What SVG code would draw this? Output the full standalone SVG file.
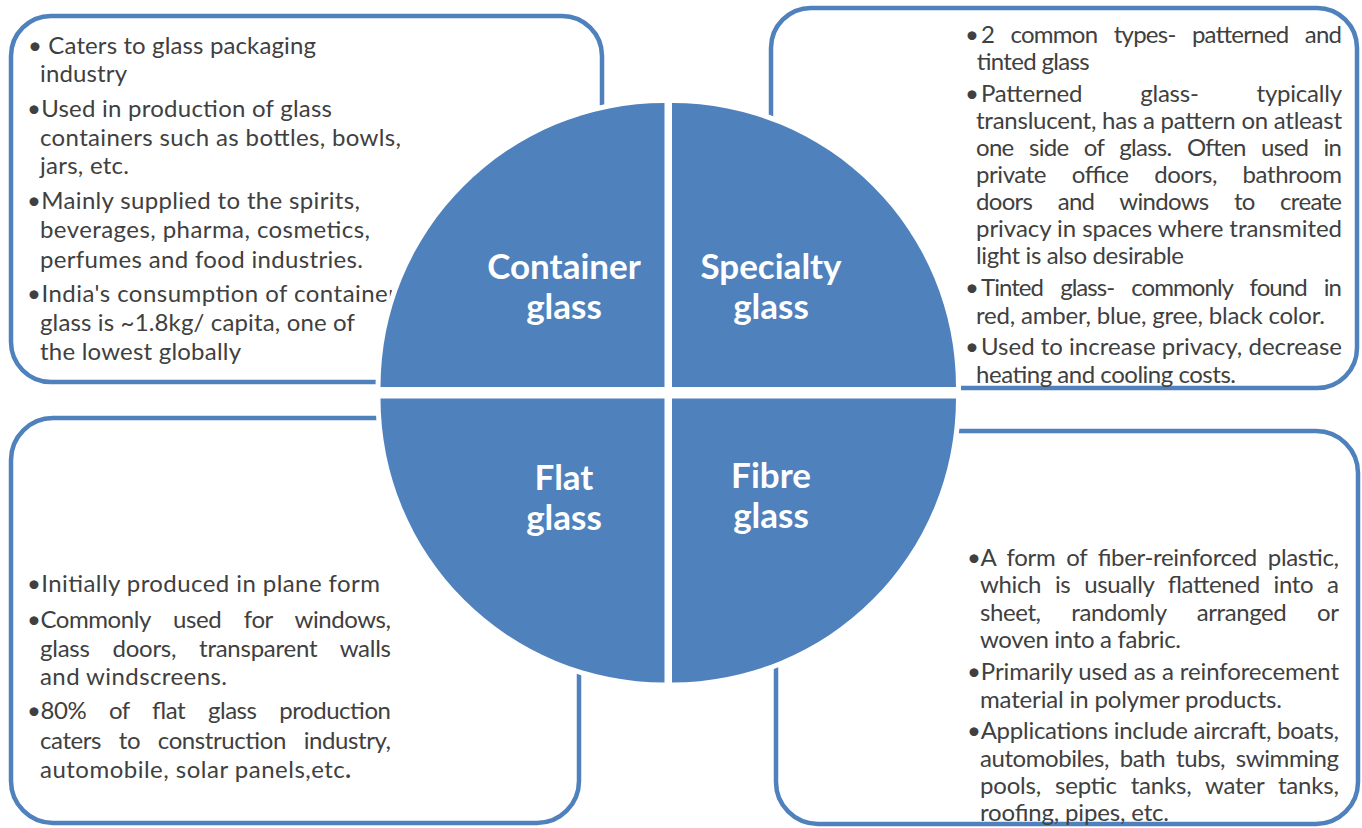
<svg xmlns="http://www.w3.org/2000/svg" width="1362" height="828" viewBox="0 0 1362 828">
<style>
.box{fill:#ffffff;stroke:#4F81BD;stroke-width:4.5}
.q{fill:#4F81BD;stroke:#ffffff;stroke-width:10;paint-order:stroke}
.t{font-family:Lato,"Liberation Sans",sans-serif;font-size:24px;fill:#404040}
.lbl{font-family:Lato,"Liberation Sans",sans-serif;font-size:35px;font-weight:bold;fill:#ffffff;text-anchor:middle}
</style>
<rect width="1362" height="828" fill="#ffffff"/>
<g id="box-container">
<rect class="box" x="11" y="16" width="591" height="366" rx="40"/>
<text class="t" x="28" y="54" textLength="288" lengthAdjust="spacing">• Caters to glass packaging</text>
<text class="t" x="40" y="82" textLength="87" lengthAdjust="spacing">industry</text>
<text class="t" x="27" y="117" textLength="305" lengthAdjust="spacing">•Used in production of glass</text>
<text class="t" x="40" y="146" textLength="361" lengthAdjust="spacing">containers such as bottles, bowls,</text>
<text class="t" x="40" y="174" textLength="89" lengthAdjust="spacing">jars, etc.</text>
<text class="t" x="27" y="209" textLength="333" lengthAdjust="spacing">•Mainly supplied to the spirits,</text>
<text class="t" x="40" y="238" textLength="330" lengthAdjust="spacing">beverages, pharma, cosmetics,</text>
<text class="t" x="40" y="268" textLength="323" lengthAdjust="spacing">perfumes and food industries.</text>
<text class="t" x="27" y="302" textLength="370" lengthAdjust="spacing">•India's consumption of container</text>
<text class="t" x="40" y="331" textLength="315" lengthAdjust="spacing">glass is ~1.8kg/ capita, one of</text>
<text class="t" x="40" y="360" textLength="201" lengthAdjust="spacing">the lowest globally</text>
</g>
<g id="box-specialty">
<rect class="box" x="771" y="8" width="586" height="380" rx="40"/>
<text class="t" y="43"><tspan x="965">•</tspan><tspan x="981" word-spacing="11" textLength="361" lengthAdjust="spacing">2 common types- patterned and</tspan></text>
<text class="t" x="976" y="70" textLength="113" lengthAdjust="spacing">tinted glass</text>
<text class="t" y="102"><tspan x="965">•</tspan><tspan x="981" word-spacing="52" textLength="361" lengthAdjust="spacing">Patterned glass- typically</tspan></text>
<text class="t" x="976" y="129" textLength="366" lengthAdjust="spacing">translucent, has a pattern on atleast</text>
<text class="t" x="976" y="156" word-spacing="10" textLength="366" lengthAdjust="spacing">one side of glass. Often used in</text>
<text class="t" x="976" y="183" word-spacing="20" textLength="366" lengthAdjust="spacing">private office doors, bathroom</text>
<text class="t" x="976" y="210" word-spacing="20" textLength="366" lengthAdjust="spacing">doors and windows to create</text>
<text class="t" x="976" y="237" textLength="366" lengthAdjust="spacing">privacy in spaces where transmited</text>
<text class="t" x="976" y="264" textLength="208" lengthAdjust="spacing">light is also desirable</text>
<text class="t" y="296"><tspan x="965">•</tspan><tspan x="981" word-spacing="12" textLength="361" lengthAdjust="spacing">Tinted glass- commonly found in</tspan></text>
<text class="t" x="976" y="324" textLength="349" lengthAdjust="spacing">red, amber, blue, gree, black color.</text>
<text class="t" y="355"><tspan x="965">•</tspan><tspan x="981" textLength="361" lengthAdjust="spacing">Used to increase privacy, decrease</tspan></text>
<text class="t" x="976" y="383" textLength="260" lengthAdjust="spacing">heating and cooling costs.</text>
</g>
<g id="box-flat">
<rect class="box" x="11" y="418" width="568" height="405" rx="42"/>
<text class="t" x="27" y="592" textLength="353" lengthAdjust="spacing">•Initially produced in plane form</text>
<text class="t" x="27" y="628" word-spacing="17" textLength="364" lengthAdjust="spacing">•Commonly used for windows,</text>
<text class="t" x="40" y="657" word-spacing="17" textLength="351" lengthAdjust="spacing">glass doors, transparent walls</text>
<text class="t" x="40" y="685" textLength="187" lengthAdjust="spacing">and windscreens.</text>
<text class="t" x="27" y="719" word-spacing="17" textLength="364" lengthAdjust="spacing">•80% of flat glass production</text>
<text class="t" x="40" y="749" word-spacing="12" textLength="351" lengthAdjust="spacing">caters to construction industry,</text>
<text class="t" x="40" y="778" textLength="311" lengthAdjust="spacing">automobile, solar panels,etc<tspan font-weight="bold">.</tspan></text>
</g>
<g id="box-fibre">
<rect class="box" x="776" y="431" width="582" height="393" rx="42"/>
<text class="t" x="967" y="566" word-spacing="5" textLength="372" lengthAdjust="spacing">•A form of fiber-reinforced plastic,</text>
<text class="t" x="980" y="593" word-spacing="8" textLength="359" lengthAdjust="spacing">which is usually flattened into a</text>
<text class="t" x="980" y="621" word-spacing="25" textLength="359" lengthAdjust="spacing">sheet, randomly arranged or</text>
<text class="t" x="980" y="648" textLength="201" lengthAdjust="spacing">woven into a fabric.</text>
<text class="t" x="967" y="680" textLength="372" lengthAdjust="spacing">•Primarily used as a reinforecement</text>
<text class="t" x="980" y="708" textLength="302" lengthAdjust="spacing">material in polymer products.</text>
<text class="t" x="967" y="739" textLength="372" lengthAdjust="spacing">•Applications include aircraft, boats,</text>
<text class="t" x="980" y="767" word-spacing="5" textLength="359" lengthAdjust="spacing">automobiles, bath tubs, swimming</text>
<text class="t" x="980" y="794" word-spacing="8" textLength="359" lengthAdjust="spacing">pools, septic tanks, water tanks,</text>
<text class="t" x="980" y="821" textLength="189" lengthAdjust="spacing">roofing, pipes, etc.</text>
</g>
<g id="connectors"></g>
<g id="node-container">
<path class="q" d="M664.5,387 L380.5,387 A284,284 0 0 1 664.5,103 Z"/>
<text class="lbl" x="564" y="279">Container</text>
<text class="lbl" x="564" y="319">glass</text>
</g>
<g id="node-specialty">
<path class="q" d="M672,387 L672,103 A284,284 0 0 1 956,387 Z"/>
<text class="lbl" x="771" y="279">Specialty</text>
<text class="lbl" x="771" y="319">glass</text>
</g>
<g id="node-flat">
<path class="q" d="M664.5,398.5 L664.5,682.5 A284,284 0 0 1 380.5,398.5 Z"/>
<text class="lbl" x="564" y="490">Flat</text>
<text class="lbl" x="564" y="530">glass</text>
</g>
<g id="node-fibre">
<path class="q" d="M672,398.5 L956,398.5 A284,284 0 0 1 672,682.5 Z"/>
<text class="lbl" x="771" y="488">Fibre</text>
<text class="lbl" x="771" y="528">glass</text>
</g>
</svg>
